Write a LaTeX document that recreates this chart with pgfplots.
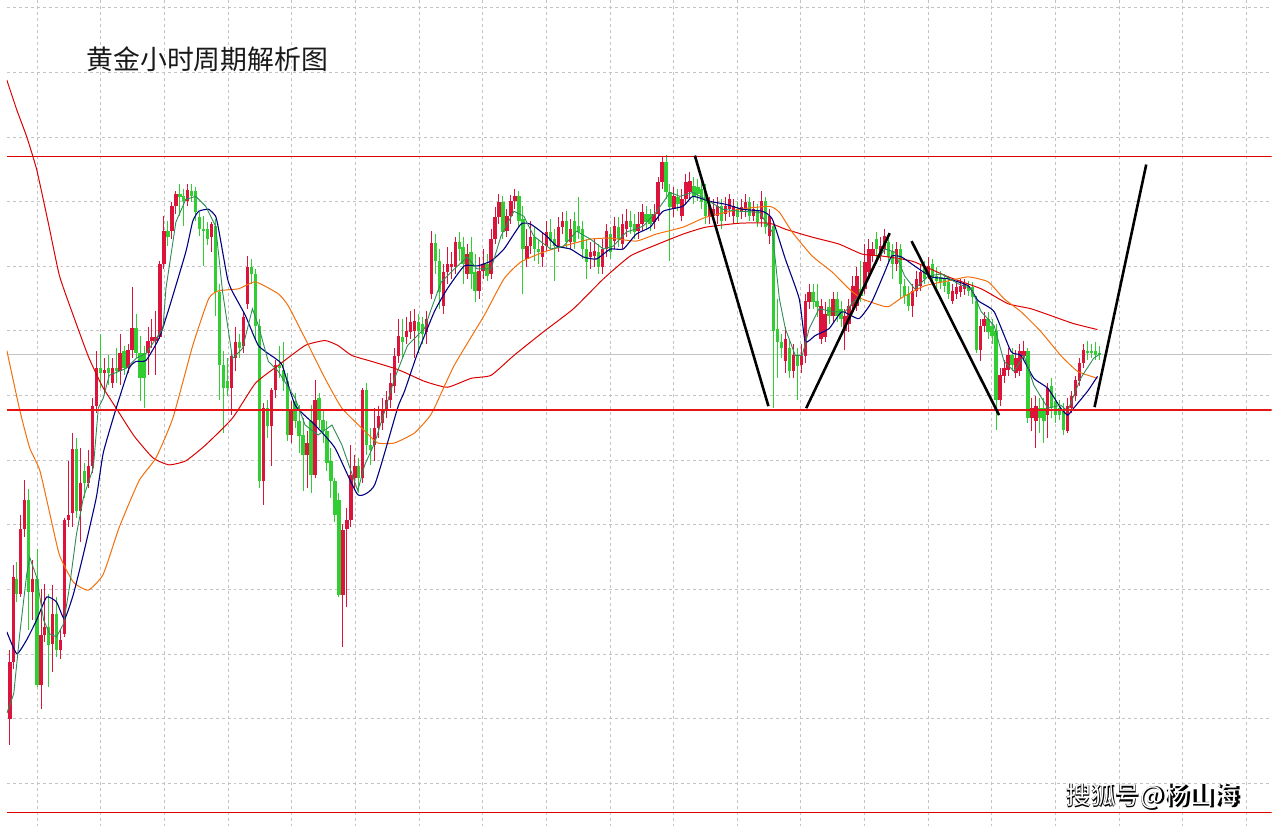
\documentclass[border=0pt]{standalone}
\usepackage{pgfplots}
\usepackage{pgfplotstable}
\pgfplotsset{compat=1.18}
\usepackage{fontspec}
\newfontfamily\cjk{Noto Sans CJK SC}
\definecolor{cgreen}{RGB}{50,205,50}
\definecolor{cred}{RGB}{220,20,60}
\definecolor{mafast}{RGB}{46,139,87}
\definecolor{manavy}{RGB}{0,0,128}
\definecolor{maorange}{RGB}{245,110,10}
\definecolor{mared}{RGB}{220,0,0}
\definecolor{levelred}{RGB}{230,20,20}
\definecolor{gridgray}{RGB}{195,195,195}

\pgfplotstableread{
x hi lo bt bb
10 565 605 582 597
22 491 633 502 595
30.5 552 690 582 688
42 597 690 630 648
50 600 660 617 653
70 440 520 451 513
78 465 500 473 485
94 335 390 370 375
102 357 387 370 375
110 350 385 370 373
118 347 377 353 370
130 315 360 329 355
134 337 403 355 380
138 348 410 355 380
162 222 247 232 238
174 185 217 195 198
178 190 227 197 202
186 185 203 192 197
190 188 222 192 213
194 213 237 218 230
198 217 267 230 232
202 223 246 230 240
210 220 317 227 293
214 285 402 293 367
218 353 435 367 390
222 360 398 383 390
234 335 360 343 350
246 260 285 268 275
250 270 340 275 327
254 320 490 327 483
262 402 440 410 428
274 347 380 367 370
278 343 393 372 383
282 375 443 383 437
290 395 430 403 423
294 407 455 423 438
298 420 493 437 457
306 407 495 423 477
314 395 430 400 422
318 413 445 422 433
322 423 473 433 465
326 450 500 463 483
330 480 525 483 517
334 495 600 502 598
354 460 495 468 480
362 385 457 392 447
366 430 467 447 452
398 320 360 338 343
414 315 355 323 332
418 318 345 325 335
431 235 275 244 262
435 250 310 262 293
455 233 262 243 250
459 238 285 248 265
467 238 290 253 275
471 255 303 273 292
483 255 282 265 277
499 197 240 203 233
515 192 228 197 222
519 207 295 220 250
531 228 262 238 250
535 240 265 250 253
547 220 250 233 242
551 230 282 240 247
563 212 250 222 243
571 213 250 222 243
575 198 240 227 233
579 222 260 230 250
583 240 280 250 263
595 245 275 253 268
607 228 260 235 253
615 218 248 228 240
627 212 235 222 228
631 215 240 225 233
643 207 230 215 223
647 210 232 215 225
663 155 200 162 193
667 185 262 193 208
675 190 212 198 205
691 178 205 187 197
695 180 202 188 195
699 183 210 190 203
703 185 225 193 217
719 200 230 207 222
735 203 225 210 218
747 198 222 203 217
755 205 228 212 223
763 198 235 202 228
771 222 410 227 332
775 300 380 330 343
779 335 360 343 350
787 340 380 350 373
795 350 402 358 368
811 285 310 293 303
815 285 318 302 308
827 300 325 308 317
835 293 323 300 317
839 302 328 310 320
859 262 303 290 297
875 233 265 240 250
887 235 265 243 258
891 245 280 252 265
899 245 300 250 285
903 280 305 287 297
907 287 312 295 307
923 262 285 268 280
931 260 283 265 278
935 268 290 277 282
939 272 290 278 283
943 275 293 280 287
947 277 300 283 295
967 282 297 287 292
971 283 305 288 298
975 297 355 302 352
987 313 340 320 333
991 320 345 327 337
995 325 432 332 402
1011 350 373 357 367
1027 350 425 353 420
1039 400 435 410 420
1043 400 445 410 423
1051 380 420 388 410
1055 395 425 403 417
1059 402 422 410 417
1063 405 437 412 432
1087 342 362 353 355
1091 345 360 353 355
1095 343 362 353 357
1099 348 362 355 357
}\greentab

\pgfplotstableread{
x hi lo bt bb
3 653 749 665 723
6.5 568 672 580 665
14 517 600 532 597
18 482 540 502 532
26 563 623 582 595
34.5 592 713 638 688
38 587 645 630 638
46 588 675 617 647
54 633 662 643 653
58 520 640 523 637
62 463 530 517 523
66 435 530 451 515
74 450 545 485 513
82 452 490 468 485
86 400 475 408 468
90 353 415 370 408
98 360 395 372 375
106 360 390 370 385
114 335 387 355 373
122 345 375 352 370
126 288 360 329 352
142 328 377 342 355
146 320 350 338 342
150 312 377 338 342
154 262 340 265 338
158 217 270 232 265
166 203 240 207 232
170 192 215 195 207
182 185 207 191 202
206 223 253 225 238
226 352 417 358 390
230 328 373 343 360
238 312 355 318 348
242 257 310 268 305
258 405 507 410 483
266 390 468 392 428
270 362 400 367 392
286 403 445 413 437
302 433 490 445 457
310 382 480 402 477
338 527 650 533 598
342 510 610 523 532
346 447 530 477 523
350 457 490 468 480
358 390 485 392 480
370 410 463 430 447
374 408 440 418 430
378 400 432 412 425
382 393 420 402 412
386 375 410 385 402
390 350 395 358 388
394 320 365 337 358
402 318 345 332 338
406 312 340 323 333
410 310 360 322 332
422 312 345 320 333
427 232 300 244 295
439 265 315 273 307
443 248 285 265 273
447 253 280 265 268
451 238 275 243 268
463 245 280 255 275
475 258 300 272 292
479 250 280 265 272
487 230 280 240 275
491 208 245 218 240
495 195 225 203 218
503 210 238 217 232
507 196 225 202 217
511 190 210 197 202
523 230 268 247 260
527 222 255 238 247
539 233 268 247 258
543 222 252 233 247
555 218 253 228 247
559 213 235 222 228
567 220 250 230 243
587 243 270 253 258
591 240 268 252 257
599 240 275 250 268
603 225 258 232 250
611 218 250 227 242
619 215 250 225 245
623 210 238 222 230
635 213 240 225 232
639 205 232 213 225
651 205 230 215 223
655 178 222 183 215
659 157 190 162 183
671 188 218 197 210
679 190 222 200 217
683 175 205 183 200
687 172 200 182 193
707 198 225 207 218
711 200 222 210 217
715 198 225 207 217
723 198 222 207 215
727 195 218 200 210
731 200 225 207 217
739 200 220 208 213
743 195 218 203 210
751 202 222 210 217
759 192 228 202 220
767 210 245 217 237
783 328 375 340 363
791 345 380 357 373
799 345 375 358 367
803 295 365 302 358
807 285 310 293 303
819 300 345 307 340
823 303 343 315 338
831 293 323 300 317
843 310 352 317 332
847 300 333 307 325
851 277 312 287 307
855 268 312 277 307
863 245 295 263 290
867 240 280 250 273
871 243 263 250 257
879 238 262 247 257
883 230 255 237 250
895 243 272 250 265
911 285 318 292 307
915 272 298 280 292
919 265 292 273 287
927 258 280 267 275
951 285 305 292 302
955 282 300 288 295
959 280 298 287 293
963 280 296 285 290
979 320 363 327 352
983 313 333 320 327
999 370 408 377 402
1003 362 385 370 378
1007 350 378 357 372
1015 352 380 360 375
1019 345 378 353 373
1023 342 362 353 358
1031 400 433 410 420
1035 398 450 408 423
1047 385 440 390 417
1067 400 435 408 433
1071 393 415 398 410
1075 378 403 382 398
1079 360 388 365 383
1083 345 370 352 365
}\redtab

\pgfplotsset{
  candle/.style 2 args={draw=none, mark=none, forget plot,
    error bars/.cd, y dir=plus, y explicit, error mark=none,
    error bar style={draw=#1, line width=#2, solid}},
}

\begin{document}
\begin{tikzpicture}
\begin{axis}[
  scale only axis, width=1272pt, height=830pt,
  xmin=0, xmax=1272, ymin=0, ymax=830, y dir=reverse,
  axis line style={draw=none}, tick style={draw=none},
  xtick={30.7,94.7,158.7,222.7,286.7,350.7,414.7,478.7,542.7,606.7,670.7,734.7,798.7,862.7,926.7,990.7,1054.7,1118.7,1182.7,1246.7},
  ytick={7.3,72.3,137.3,202.3,267.3,332.3,397.3,462.3,527.3,592.3,657.3,722.3,787.3},
  xticklabels={}, yticklabels={},
  grid=major,
  grid style={draw=gridgray, line width=1pt, dash pattern=on 3pt off 3pt},
  axis background/.style={fill=white},
  clip=true,
]
\addplot[draw=gridgray, line width=1.2pt, mark=none, forget plot] coordinates {(0,356) (1272,356)};

% wicks
\addplot[candle={cgreen}{1pt}]
  table[x=x, y=hi, y error plus expr=\thisrow{lo}-\thisrow{hi}] {\greentab};
\addplot[candle={cred}{1pt}]
  table[x=x, y=hi, y error plus expr=\thisrow{lo}-\thisrow{hi}] {\redtab};
% bodies
\addplot[candle={cgreen}{3.4pt}]
  table[x=x, y=bt, y error plus expr={max(\thisrow{bb}-\thisrow{bt},1.5)}] {\greentab};
\addplot[candle={cred}{3.4pt}]
  table[x=x, y=bt, y error plus expr={max(\thisrow{bb}-\thisrow{bt},1.5)}] {\redtab};

% slow red MA
\addplot[draw=mared, mark=none, line width=1pt, smooth, tension=0.3] coordinates {
(0,80) (10,110) (20,137) (30,170) (42,225) (53,277) (68,320) (82,358) (96,388) (110,410) (128,438) (147,460) (163,467) (180,463) (200,447) (227,420) (250,385) (273,367) (300,347) (320,342) (333,347) (347,357) (367,363) (390,370) (400,374) (420,383) (443,389) (467,380) (487,377) (510,357) (540,333) (570,310) (600,280) (627,257) (650,247) (680,235) (703,228) (737,224) (767,224) (783,230) (810,238) (837,245) (860,255) (880,257) (900,260) (913,263) (947,278) (980,290) (1007,305) (1030,310) (1053,318) (1073,325) (1097,331)};
% orange MA
\addplot[draw=maorange, mark=none, line width=1pt, smooth, tension=0.3] coordinates {
(0,352) (13,412) (23,450) (33,472) (43,515) (53,558) (67,585) (82,593) (97,577) (113,530) (133,483) (150,460) (167,420) (187,347) (203,300) (213,292) (233,290) (250,283) (273,295) (283,307) (300,340) (320,380) (337,410) (360,433) (373,445) (390,445) (410,435) (424,420) (430,410) (450,367) (480,317) (500,280) (517,263) (540,253) (560,247) (587,240) (607,239) (633,242) (653,235) (680,228) (703,218) (737,210) (767,207) (777,213) (790,233) (810,257) (830,273) (847,290) (860,300) (880,307) (887,308) (900,299) (923,287) (947,282) (967,278) (987,283) (1003,300) (1020,313) (1040,333) (1060,357) (1077,373) (1097,380)};
% navy MA
\addplot[draw=manavy, mark=none, line width=1.1pt, smooth, tension=0.3] coordinates {
(0,635) (10,657) (20,643) (30,623) (40,600) (50,605) (58,622) (67,597) (77,557) (90,500) (97,455) (110,410) (123,370) (130,363) (140,362) (153,340) (163,310) (180,253) (187,222) (193,212) (203,210) (210,217) (213,230) (222,280) (227,293) (240,317) (253,347) (270,360) (277,367) (290,407) (310,427) (330,450) (353,497) (370,487) (393,410) (400,393) (413,355) (430,313) (443,290) (460,267) (473,267) (487,262) (500,250) (517,225) (527,225) (543,237) (553,247) (567,250) (580,258) (593,260) (607,250) (620,250) (633,235) (647,228) (660,212) (680,207) (690,197) (707,202) (723,205) (740,210) (760,212) (770,220) (783,260) (797,300) (803,343) (813,337) (827,330) (840,313) (857,320) (870,303) (883,273) (890,257) (900,258) (913,267) (930,278) (947,280) (967,287) (977,302) (993,313) (1010,353) (1020,357) (1033,380) (1047,390) (1060,410) (1067,417) (1073,410) (1087,393) (1097,378)};
% fast MA
\addplot[draw=mafast, mark=none, line width=0.9pt] coordinates {
(0,717) (7,697) (13,637) (20,577) (23,560) (30,580) (37,623) (43,637) (50,640) (57,627) (63,590) (70,537) (77,500) (87,470) (92,410) (97,400) (103,377) (120,370) (130,360) (140,355) (150,340) (157,330) (160,290) (170,223) (180,200) (190,197) (200,207) (210,227) (217,293) (227,360) (237,350) (247,310) (253,327) (263,363) (273,373) (290,400) (300,427) (313,437) (327,427) (337,447) (353,493) (360,467) (370,445) (380,413) (390,380) (403,347) (420,330) (427,310) (437,283) (447,273) (463,258) (473,270) (487,270) (497,237) (510,212) (520,217) (530,237) (547,250) (560,247) (573,232) (587,240) (600,250) (610,247) (623,233) (640,227) (653,213) (667,193) (677,197) (690,193) (703,200) (720,210) (737,212) (757,213) (770,233) (777,300) (783,330) (793,357) (800,357) (807,330) (817,310) (830,313) (843,313) (857,297) (870,270) (883,250) (893,253) (903,277) (913,290) (927,277) (940,275) (957,285) (970,290) (980,313) (993,327) (1003,363) (1013,373) (1023,357) (1033,387) (1047,410) (1060,407) (1067,413) (1080,380) (1093,360) (1100,355)};

% red horizontal levels
\addplot[draw=mared, line width=1.2pt, mark=none, forget plot] coordinates {(0,157) (1272,157)};
\addplot[draw=mared, line width=1.2pt, mark=none, forget plot] coordinates {(0,817) (1272,817)};
\addplot[draw=levelred, line width=1.8pt, mark=none, forget plot] coordinates {(0,411.5) (1272,411.5)};

% trend lines
\addplot[draw=black, mark=none, line width=2.6pt] coordinates {(692,156) (766,408)};
\addplot[draw=black, mark=none, line width=2.6pt] coordinates {(804,410) (888,234)};
\addplot[draw=black, mark=none, line width=2.6pt] coordinates {(910,242) (998,417)};
\addplot[draw=black, mark=none, line width=2.6pt] coordinates {(1094,409) (1146,165)};

% texts
\node[anchor=west, inner sep=0pt, text=black!90] at (axis cs:80,59) {\cjk\fontsize{27}{30}\selectfont 黄金小时周期解析图};
\node[inner sep=0pt, text=black] at (axis cs:1153.5,801.5) {\cjk\bfseries\fontsize{25}{28}\selectfont 搜狐号@杨山海};
\node[inner sep=0pt, text=white] at (axis cs:1152.3,800.3) {\cjk\fontsize{25}{28}\selectfont 搜狐号@杨山海};
\end{axis}
\end{tikzpicture}
\end{document}
